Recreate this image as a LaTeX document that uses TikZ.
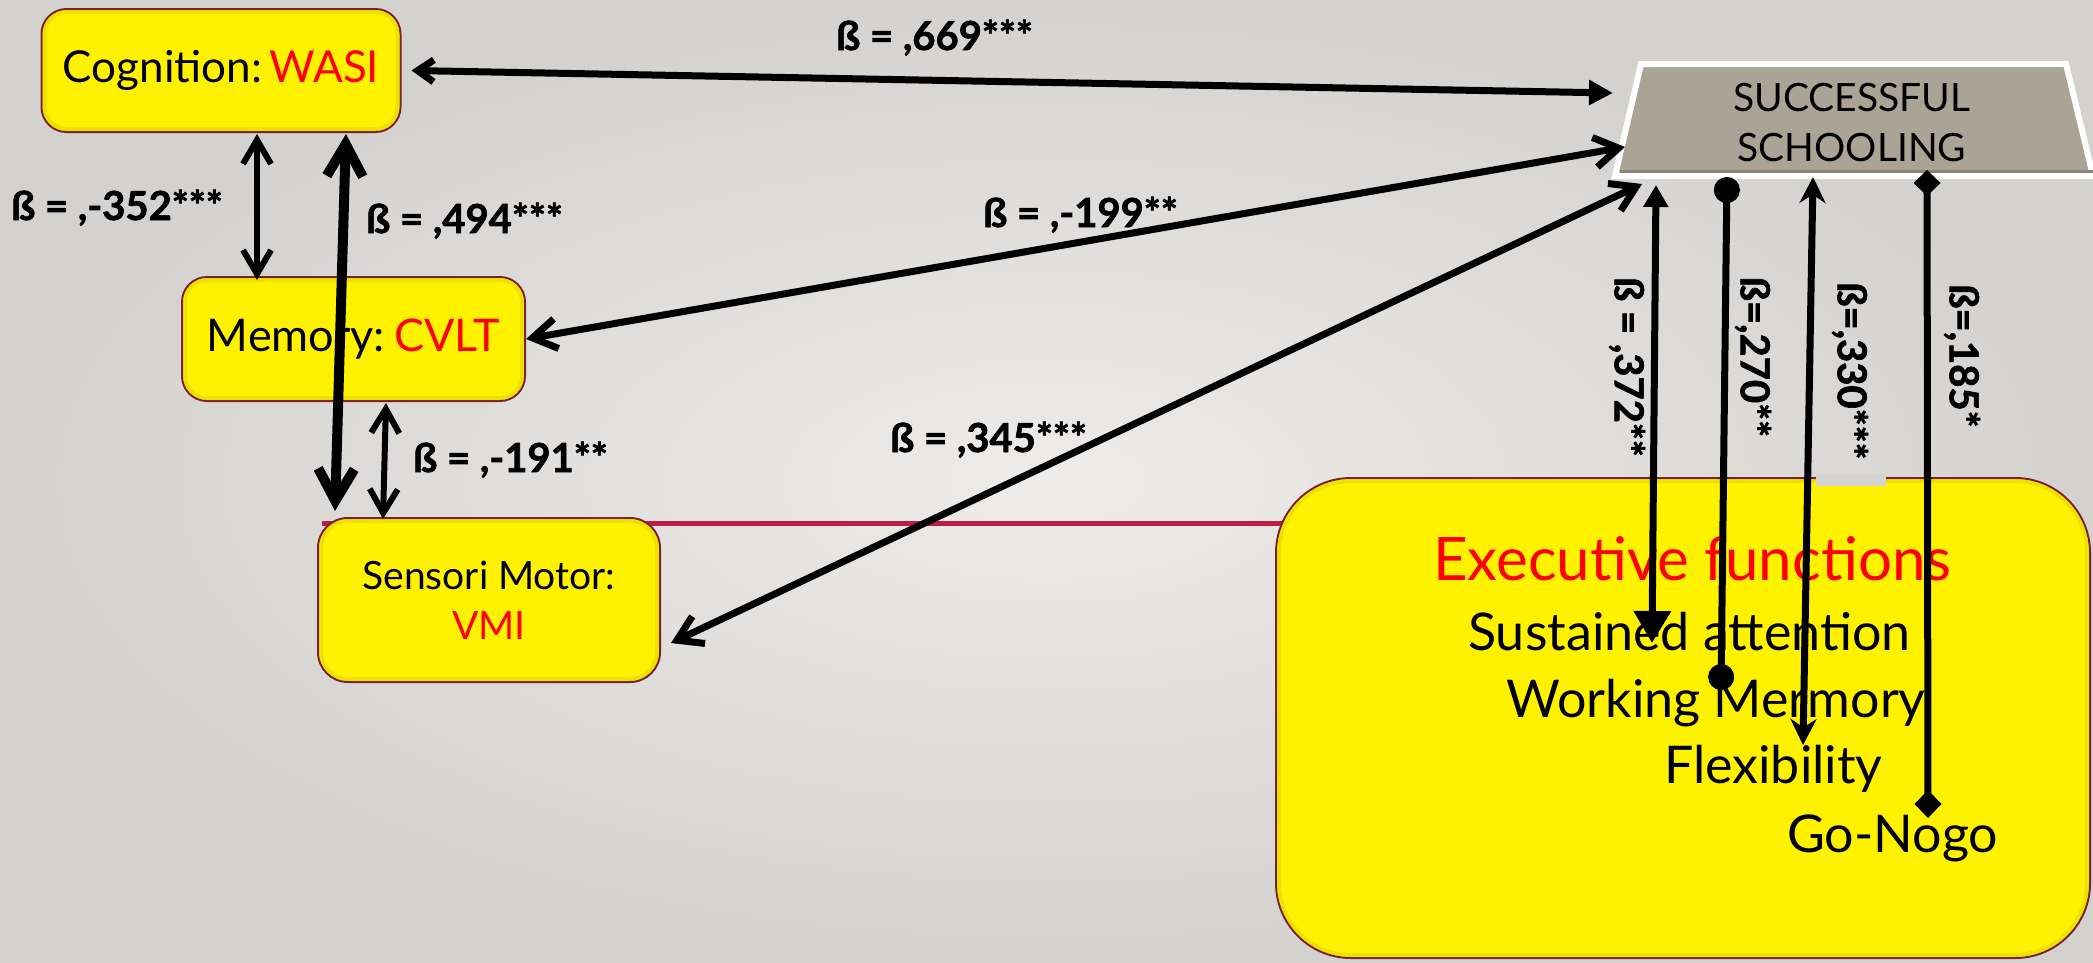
\documentclass[tikz,border=0pt]{standalone}
\usepackage{fontspec}
\setmainfont{Lato}
\newfontfamily\lblfont[BoldFeatures={FakeBold=1.6}]{Lato}
\usetikzlibrary{arrows.meta}
\pgfdeclarelayer{bglayer}
\pgfdeclarelayer{linelayer}
\pgfsetlayers{bglayer,linelayer,main}
\definecolor{bgin}{RGB}{238,236,233}
\definecolor{bgout}{RGB}{212,210,207}
\definecolor{boxedge}{RGB}{125,30,55}
\definecolor{bevel}{RGB}{225,215,0}
\definecolor{redline}{RGB}{190,30,70}
\definecolor{trapfill}{RGB}{170,163,150}
\definecolor{trapdark}{RGB}{140,133,122}
\definecolor{txtred}{RGB}{255,0,0}
\definecolor{patch}{RGB}{214,212,209}
\begin{document}
\begin{tikzpicture}[x=1pt,y=-1pt,
  ybox/.style={draw=boxedge, line width=2pt, fill=yellow, rounded corners=25pt, inner sep=0pt, align=center},
  lbl/.style={font=\lblfont\fontsize{40}{45}\selectfont\bfseries, inner sep=0pt},
  eftxt/.style={anchor=base west, inner sep=0pt, font=\fontsize{52}{60}\selectfont},
  conn/.style={line width=7pt},
  thinconn/.style={line width=6pt},
  thickconn/.style={line width=10pt},
  barbA/.style={Straight Barb[length=24pt,width=30pt]},
]
\useasboundingbox (0,0) rectangle (2093,962);
\begin{pgfonlayer}{bglayer}
\shade[inner color=bgin, outer color=bgout] (0,0) rectangle (2093,962);
\end{pgfonlayer}

% boxes
\node[ybox, minimum width=359pt, minimum height=123pt, font=\fontsize{44}{50}\selectfont] (cog) at (221,70.5) {Cognition:\,\textcolor{txtred}{WASI}};
\node[ybox, minimum width=343pt, minimum height=124pt, font=\fontsize{45}{54}\selectfont] (mem) at (353.5,339) {Memory:\hspace{0.2em}\textcolor{txtred}{CVLT}};
\node[ybox, rounded corners=30pt, minimum width=342pt, minimum height=164pt, font=\fontsize{39}{50}\selectfont] (sens) at (489,600) {Sensori Motor:\\[0pt]\textcolor{txtred}{VMI}};
\node[ybox, rounded corners=75pt, minimum width=814pt, minimum height=480pt] (exec) at (1683,718) {};
% bevel rims
\draw[bevel, line width=4pt, rounded corners=22pt, opacity=0.6] ([shift={(4,4)}]cog.north west) rectangle ([shift={(-4,-4)}]cog.south east);
\draw[bevel, line width=4pt, rounded corners=22pt, opacity=0.6] ([shift={(4,4)}]mem.north west) rectangle ([shift={(-4,-4)}]mem.south east);
\draw[bevel, line width=4pt, rounded corners=27pt, opacity=0.6] ([shift={(4,4)}]sens.north west) rectangle ([shift={(-4,-4)}]sens.south east);
\draw[bevel, line width=4pt, rounded corners=72pt, opacity=0.6] ([shift={(4,4)}]exec.north west) rectangle ([shift={(-4,-4)}]exec.south east);

\begin{pgfonlayer}{linelayer}
\coordinate (rlA) at (322,523);
\draw[redline, line width=5pt] (rlA) -- ([xshift=10pt]exec.west |- rlA);
\end{pgfonlayer}

% successful schooling trapezoid
\filldraw[draw=white, line width=6pt, fill=trapfill] (1641,64) -- (2066,64) -- (2093,176) -- (1615,176) -- cycle;
\draw[trapdark, line width=3pt] (1620,171) -- (2093,171);
\node[align=center, inner sep=0pt, font=\fontsize{39}{50}\selectfont] (succ) at (1852,123) {SUCCESSFUL\\SCHOOLING};

\fill[patch] (1816,474) rectangle (1886,486);

% executive function texts
\node[eftxt, font=\fontsize{60}{70}\selectfont, text=txtred] (eft) at (1433,580) {Executive functions};
\node[eftxt] (sa) at (1468,650) {Sustained attention};
\node[eftxt] (wm) at (1506,717) {Working Mermory};
\node[eftxt] (fl) at (1664,783) {Flexibility};
\node[eftxt] (gn) at (1787,852) {Go-Nogo};

% labels
\node[lbl, anchor=base west] (l669) at (836,50) {ß = ,669***};
\node[lbl, anchor=base west] (l199) at (983,227) {ß = ,-199**};
\node[lbl, anchor=base west] (l345) at (890,452) {ß = ,345***};
\node[lbl, anchor=base west] (l352) at (11,220) {ß = ,-352***};
\node[lbl, anchor=base west] (l494) at (366,233) {ß = ,494***};
\node[lbl, anchor=base west] (l191) at (413,472) {ß = ,-191**};
\node[lbl, rotate=-90] (l372) at (1627,367) {ß = ,372**};
\node[lbl, rotate=-90] (l270) at (1753,357) {ß=,270**};
\node[lbl, rotate=-90] (l330) at (1850,371) {ß=,330***};
\node[lbl, rotate=-90] (l185) at (1962,356) {ß=,185*};

% connector end points on the trapezoid / inside the exec box
\coordinate (s1) at (1613,93);
\coordinate (s2) at (1625,147);
\coordinate (s3) at (1642,184);
\coordinate (t1) at (1656,185);
\coordinate (t2) at (1727,177);
\coordinate (t3) at (1813,177);
\coordinate (t4) at (1927,170);
\coordinate (b1) at (1652,643);
\coordinate (b2) at (1721,690);
\coordinate (b3) at (1803,745);
\coordinate (b4) at (1928,818);

% connectors
\draw[conn, {Straight Barb[length=16pt,width=22pt]}-{Triangle[length=24pt,width=24pt]}] ([xshift=10pt]cog.east) -- (s1);
\draw[conn, {Straight Barb[length=24pt,width=30pt]}-{Straight Barb[length=24pt,width=30pt]}] (mem.east) -- (s2);
\draw[conn, {Straight Barb[length=24pt,width=30pt]}-{Straight Barb[length=24pt,width=30pt]}] ([shift={(10,43)}]sens.east) -- (s3);
\draw[thinconn, {Straight Barb[length=24pt,width=28pt]}-{Straight Barb[length=24pt,width=28pt]}] ([shift={(36,1)}]cog.south) -- ([shift={(-96.5,4)}]mem.north);
\draw[thickconn, {Straight Barb[length=32pt,width=36pt]}-{Straight Barb[length=32pt,width=36pt]}] ([shift={(125,1)}]cog.south) -- ([shift={(-154,-6)}]sens.north);
\draw[thinconn, {Straight Barb[length=24pt,width=28pt]}-{Straight Barb[length=24pt,width=28pt]}] ([shift={(32.5,1)}]mem.south) -- ([shift={(-106,2)}]sens.north);
\draw[conn, {Triangle[length=32pt,width=36pt]}-{Triangle[length=22pt,width=24pt]}] (b1) -- (t1);
\draw[conn, {Circle[length=26pt]}-{Circle[length=26pt]}] (b2) -- (t2);
\draw[conn, {Stealth[length=26pt,width=26pt]}-{Stealth[length=26pt,width=26pt]}] (b3) -- (t3);
\draw[conn, {Diamond[length=28pt,width=27pt]}-{Diamond[length=26pt,width=27pt]}] (b4) -- (t4);
\end{tikzpicture}
\end{document}
